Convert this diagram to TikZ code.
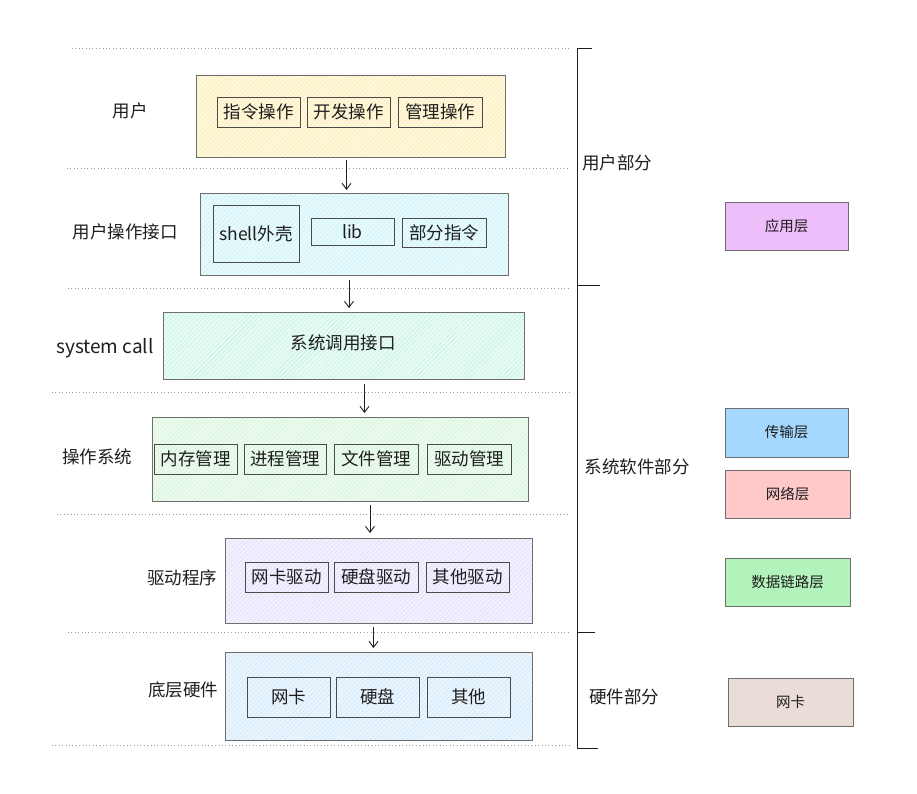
\documentclass[tikz,border=0pt]{standalone}
\usepackage{fontspec}
\setmainfont{Noto Sans CJK SC}
\usetikzlibrary{patterns.meta,arrows.meta,calc}
\definecolor{ink}{HTML}{1E1E1E}
\definecolor{edge}{HTML}{6E6E6E}
\definecolor{yfill}{HTML}{FFF8DC}\definecolor{yhatch}{HTML}{F7E8A8}
\definecolor{cfill}{HTML}{E8FAFC}\definecolor{chatch}{HTML}{BFEFF5}
\definecolor{mfill}{HTML}{E8FBF4}\definecolor{mhatch}{HTML}{B8F0DC}
\definecolor{gfill}{HTML}{EDFBEF}\definecolor{ghatch}{HTML}{CDF2D3}
\definecolor{pfill}{HTML}{F4F1FF}\definecolor{phatch}{HTML}{DDD4FA}
\definecolor{bfill}{HTML}{EAF5FE}\definecolor{bhatch}{HTML}{C8E3F8}
\definecolor{appc}{HTML}{EEBEFA}
\definecolor{trac}{HTML}{A5D8FF}
\definecolor{netc}{HTML}{FFC9C9}
\definecolor{linkc}{HTML}{B2F2BB}
\definecolor{nicc}{HTML}{EADDD7}
\newcommand{\bx}[7]{\node[#6, anchor=north west, minimum width={(#4-#2)*1pt}, minimum height={(#5-#3)*1pt}] (#1) at (#2,#3) {#7};}
\begin{document}
\begin{tikzpicture}[x=1pt,y=-1pt,
  every node/.style={text=ink, font=\fontsize{17.5}{20}\selectfont, inner sep=0pt, outer sep=0pt},
  hatchbox/.style 2 args={draw=edge, line width=0.8pt, preaction={fill=#1}, pattern={Lines[angle=45,distance=3.2pt,line width=0.45pt]}, pattern color=#2},
  innerbox/.style 2 args={draw=ink!80, line width=0.8pt, preaction={fill=#1}, pattern={Lines[angle=45,distance=3.2pt,line width=0.45pt]}, pattern color=#2},
  layerbox/.style={draw=edge, line width=0.8pt, fill=#1, font=\fontsize{14.5}{17}\selectfont},
  sep/.style={draw=black!40, line width=0.8pt, dash pattern=on 0.8pt off 2.6pt},
  arr/.style={draw=ink, line width=0.9pt, -{Straight Barb[length=6pt,width=9pt]}},
  brk/.style={draw=ink, line width=1pt},
  lab/.style={anchor=center}
]
\useasboundingbox[fill=white] (0,0) rectangle (917,793);

% separators
\coordinate (s1a) at (72,48);  \coordinate (s1b) at (570,48);
\coordinate (s2a) at (67,168); \coordinate (s2b) at (570,168);
\coordinate (s3a) at (68,288); \coordinate (s3b) at (570,288);
\coordinate (s4a) at (52,392); \coordinate (s4b) at (570,392);
\coordinate (s5a) at (57,514); \coordinate (s5b) at (570,514);
\coordinate (s6a) at (68,632); \coordinate (s6b) at (570,632);
\coordinate (s7a) at (52,745); \coordinate (s7b) at (570,745);
\foreach \i in {1,...,7} {\draw[sep] (s\i a) -- (s\i b);}

% bracket
\coordinate (b0) at (577,48); \coordinate (b3) at (577,748);
\coordinate (b1) at (577,285); \coordinate (b2) at (577,632);
\draw[brk] (b0) -- (b3);
\draw[brk] (b0) -- ++(15,0);
\draw[brk] (b1) -- ++(23,0);
\draw[brk] (b2) -- ++(18,0);
\draw[brk] (b3) -- ++(21,0);
\node[lab] (pu) at (617,163) {用户部分};
\node[lab] (ps) at (637,467) {系统软件部分};
\node[lab] (ph) at (624,697) {硬件部分};

% row 1: user
\node[lab] (l1) at (130,111) {用户};
\bx{u}{196}{75}{505}{157}{hatchbox={yfill}{yhatch}}{}
\bx{u1}{217}{97}{300}{127}{innerbox={yfill}{yhatch}}{指令操作}
\bx{u2}{307}{97}{390}{127}{innerbox={yfill}{yhatch}}{开发操作}
\bx{u3}{398}{97}{482}{127}{innerbox={yfill}{yhatch}}{管理操作}

% row 2: user interface
\node[lab] (l2) at (125,232) {用户操作接口};
\bx{ui}{200}{193}{508}{275}{hatchbox={cfill}{chatch}}{}
\bx{ui1}{213}{205}{299}{262}{innerbox={cfill}{chatch}}{shell外壳}
\bx{ui2}{311}{218}{394}{245}{innerbox={cfill}{chatch}}{lib}
\bx{ui3}{402}{218}{486}{247}{innerbox={cfill}{chatch}}{部分指令}

% row 3: system call
\node[lab, font=\fontsize{19}{22}\selectfont] (l3) at (105,348) {system call};
\bx{sc}{163}{312}{524}{379}{hatchbox={mfill}{mhatch}}{}
\node[lab] (sct) at (343,343) {系统调用接口};

% row 4: OS
\node[lab] (l4) at (97,457) {操作系统};
\bx{os}{152}{417}{528}{501}{hatchbox={gfill}{ghatch}}{}
\bx{os1}{154}{444}{237}{474}{innerbox={gfill}{ghatch}}{内存管理}
\bx{os2}{244}{444}{326}{474}{innerbox={gfill}{ghatch}}{进程管理}
\bx{os3}{334}{444}{418}{474}{innerbox={gfill}{ghatch}}{文件管理}
\bx{os4}{427}{444}{511}{474}{innerbox={gfill}{ghatch}}{驱动管理}

% row 5: drivers
\node[lab] (l5) at (182,578) {驱动程序};
\bx{dr}{225}{538}{532}{623}{hatchbox={pfill}{phatch}}{}
\bx{dr1}{245}{562}{328}{592}{innerbox={pfill}{phatch}}{网卡驱动}
\bx{dr2}{334}{562}{418}{592}{innerbox={pfill}{phatch}}{硬盘驱动}
\bx{dr3}{426}{562}{509}{592}{innerbox={pfill}{phatch}}{其他驱动}

% row 6: hardware
\node[lab] (l6) at (183,690) {底层硬件};
\bx{hw}{225}{652}{532}{740}{hatchbox={bfill}{bhatch}}{}
\bx{hw1}{247}{677}{330}{717}{innerbox={bfill}{bhatch}}{网卡}
\bx{hw2}{336}{677}{419}{717}{innerbox={bfill}{bhatch}}{硬盘}
\bx{hw3}{427}{677}{510}{717}{innerbox={bfill}{bhatch}}{其他}

% arrows
\draw[arr] ($(u.south)+(-4,3)$) -- ($(u.south |- ui.north)+(-4,-3)$);
\draw[arr] ($(ui.south)+(-5,5)$) -- ($(ui.south |- sc.north)+(-5,-4)$);
\draw[arr] ($(sc.south)+(21,5)$) -- ($(sc.south |- os.north)+(21,-4)$);
\draw[arr] ($(os.south)+(30,4)$) -- ($(os.south |- dr.north)+(30,-5)$);
\draw[arr] ($(dr.south)+(-5,4)$) -- ($(dr.south |- hw.north)+(-5,-4)$);

% network layers
\bx{la}{725}{202}{848}{250}{layerbox=appc}{应用层}
\bx{lt}{725}{408}{848}{457}{layerbox=trac}{传输层}
\bx{ln}{725}{470}{850}{518}{layerbox=netc}{网络层}
\bx{ll}{725}{558}{850}{606}{layerbox=linkc}{数据链路层}
\bx{lh}{728}{678}{853}{726}{layerbox=nicc}{网卡}
\end{tikzpicture}
\end{document}
